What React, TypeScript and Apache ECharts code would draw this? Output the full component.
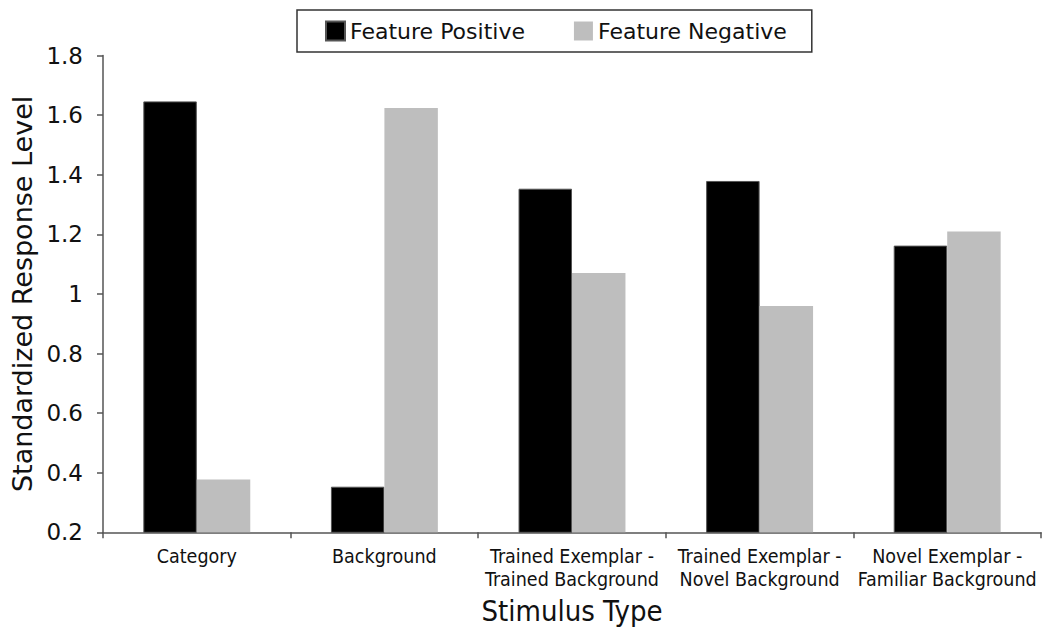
import React, { useEffect, useRef } from "react";
import * as echarts from "echarts";

const categories = [
  "Category",
  "Background",
  "Trained Exemplar -\nTrained Background",
  "Trained Exemplar -\nNovel Background",
  "Novel Exemplar -\nFamiliar Background",
];
const featurePositive = [1.646, 0.353, 1.353, 1.379, 1.162];
const featureNegative = [0.377, 1.624, 1.07, 0.959, 1.209];
const seriesNames = ["Feature Positive", "Feature Negative"];

const App: React.FC = () => {
  const ref = useRef<HTMLDivElement>(null);
  useEffect(() => {
    if (!ref.current) return;
    const chart = echarts.init(ref.current, undefined, { renderer: "svg" });
    const condensed = "'DejaVu Sans Condensed', 'Liberation Sans Narrow', 'DejaVu Sans', sans-serif";
    const sans = "'DejaVu Sans', sans-serif";
    chart.setOption({
      animation: false,
      backgroundColor: "#fff",
      legend: {
        left: 297,
        top: 10,
        orient: "horizontal",
        padding: [10, 25, 10, 28],
        itemGap: 49,
        itemWidth: 19,
        itemHeight: 19,
        borderColor: "#333",
        borderWidth: 1.5,
        icon: "rect",
        textStyle: { fontFamily: sans, fontSize: 22, color: "#111" },
        data: seriesNames,
      },
      grid: { left: 103, right: 9, top: 55.5, bottom: 104.7, containLabel: false },
      xAxis: {
        type: "category",
        data: categories,
        axisLine: { lineStyle: { color: "#555", width: 1.5 } },
        axisTick: { show: true, length: 6, lineStyle: { color: "#555", width: 1.5 } },
        axisLabel: {
          fontFamily: condensed,
          fontSize: 19.5,
          color: "#111",
          margin: 13,
          lineHeight: 23,
          interval: 0,
        },
        name: "Stimulus Type",
        nameLocation: "middle",
        nameGap: 63,
        nameTextStyle: { fontFamily: condensed, fontSize: 29, color: "#111" },
      },
      yAxis: {
        type: "value",
        min: 0.2,
        max: 1.8,
        interval: 0.2,
        splitLine: { show: false },
        axisLine: { show: true, lineStyle: { color: "#555", width: 1.5 } },
        axisTick: { show: true, length: 6, lineStyle: { color: "#555", width: 1.5 } },
        axisLabel: {
          fontFamily: sans,
          fontSize: 23,
          color: "#111",
          margin: 20,
          formatter: (v: number) => String(parseFloat(v.toFixed(1))),
        },
        name: "Standardized Response Level",
        nameLocation: "middle",
        nameRotate: 90,
        nameGap: 64,
        nameTextStyle: { fontFamily: sans, fontSize: 27, color: "#111" },
      },
      series: [
        {
          name: seriesNames[0],
          type: "bar",
          data: featurePositive,
          barGap: "0%",
          barCategoryGap: "43%",
          itemStyle: { color: "#000", borderColor: "#555", borderWidth: 1 },
        },
        {
          name: seriesNames[1],
          type: "bar",
          data: featureNegative,
          barGap: "0%",
          barCategoryGap: "43%",
          itemStyle: { color: "#BEBEBE" },
        },
      ],
    });
    return () => chart.dispose();
  }, []);
  return (
    <div
      ref={ref}
      style={{ position: "fixed", left: 0, top: 0, width: 1050, height: 637 }}
    />
  );
};

export default App;
